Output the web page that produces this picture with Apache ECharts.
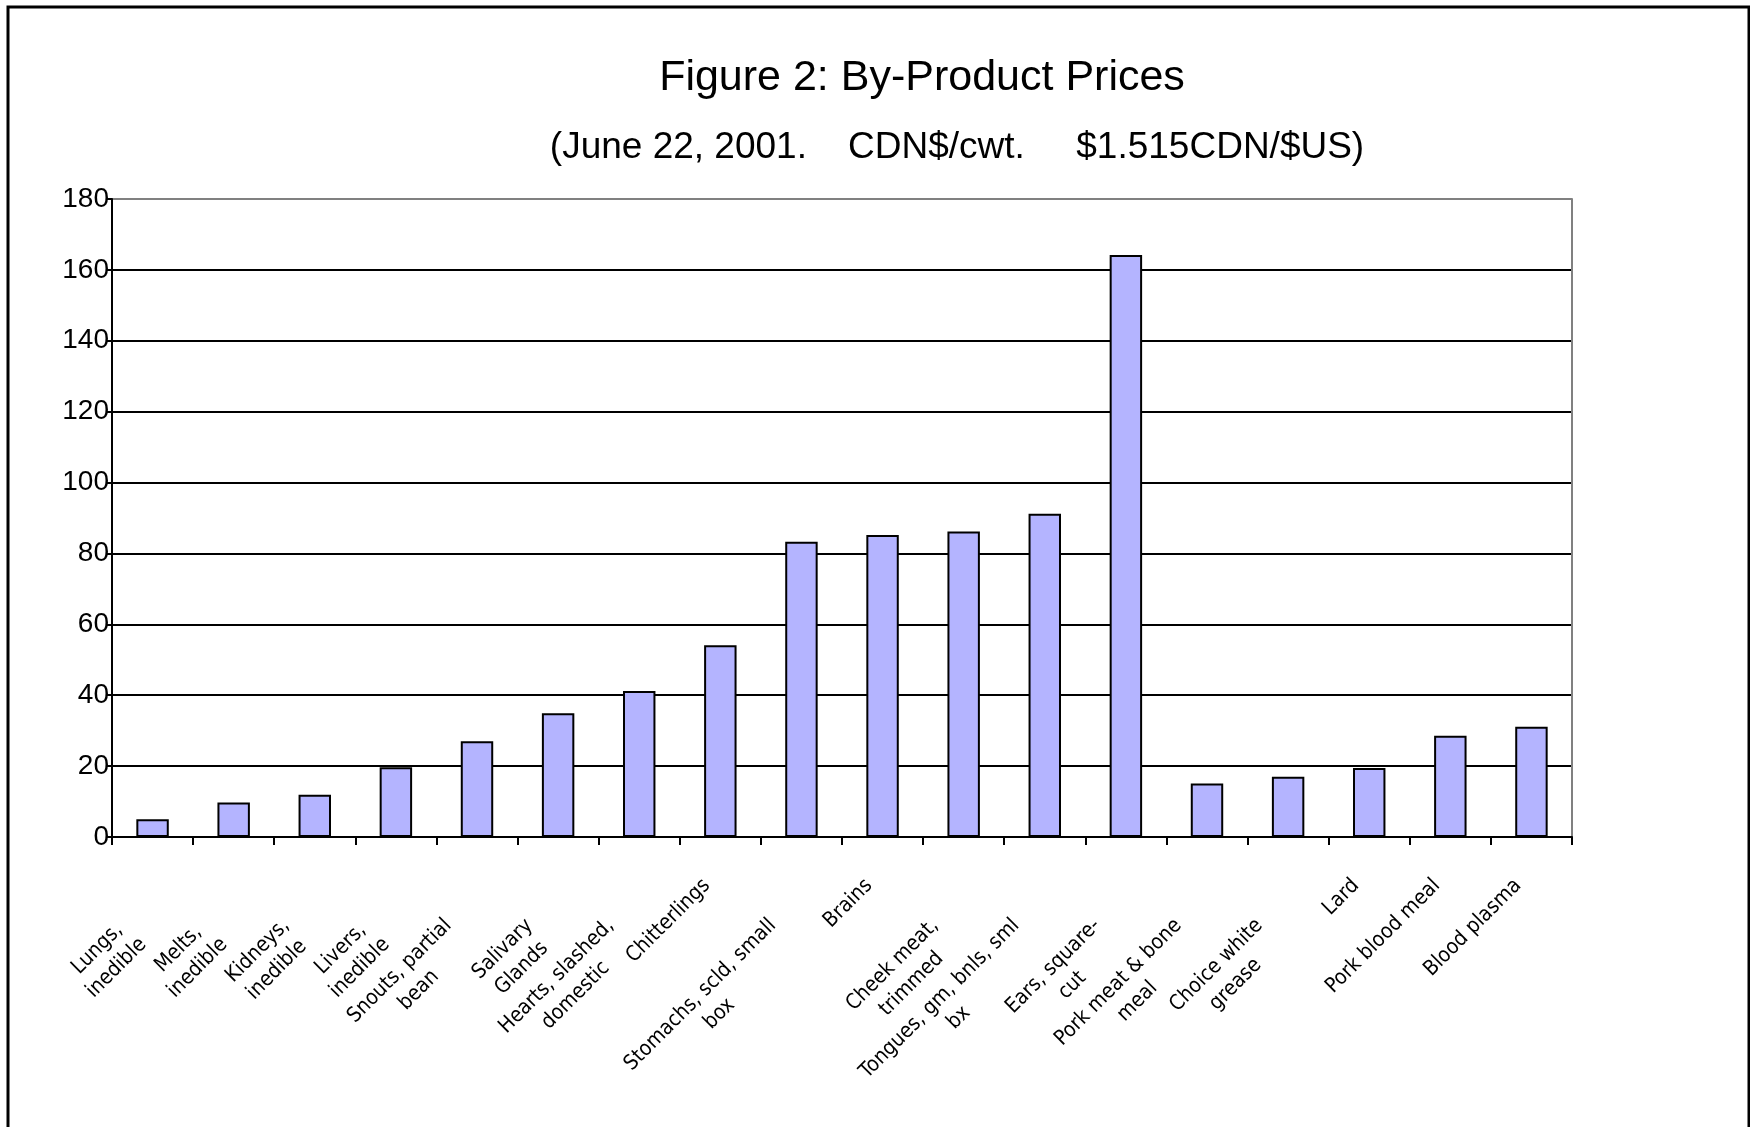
<!DOCTYPE html>
<html>
<head>
<meta charset="utf-8">
<script src="https://cdn.jsdelivr.net/npm/echarts@6/dist/echarts.min.js"></script>
<style>
html,body{margin:0;padding:0;background:#fff;}
#chart{width:1750px;height:1127px;}
</style>
</head>
<body>
<div id="chart"></div>
<script>
const categories = [
  "Lungs,\ninedible",
  "Melts,\ninedible",
  "Kidneys,\ninedible",
  "Livers,\ninedible",
  "Snouts, partial\nbean",
  "Salivary\nGlands",
  "Hearts, slashed,\ndomestic",
  "Chitterlings",
  "Stomachs, scld, small\nbox",
  "Brains",
  "Cheek meat,\ntrimmed",
  "Tongues, gm, bnls, sml\nbx",
  "Ears, square-\ncut",
  "Pork meat & bone\nmeal",
  "Choice white\ngrease",
  "Lard",
  "Pork blood meal",
  "Blood plasma"
];
const prices = [5.0, 9.7, 11.9, 19.7, 27.0, 34.9, 41.2, 54.1, 83.3, 85.2, 86.2, 91.2, 164.2, 15.1, 17.0, 19.5, 28.6, 31.1];
const yTicks = [0, 20, 40, 60, 80, 100, 120, 140, 160, 180];
const titleText = "Figure 2: By-Product Prices";
const subtitleText = "(June 22, 2001.    CDN$/cwt.     $1.515CDN/$US)";

const FONT = "'Liberation Sans', Arial, sans-serif";
const NARROW = "'DejaVu Sans Condensed', 'Liberation Sans', sans-serif";

const chart = echarts.init(document.getElementById('chart'));
const gridColors = yTicks.map((v, i) => i === yTicks.length - 1 ? '#808080' : '#000000');

chart.setOption({
  animation: false,
  backgroundColor: '#ffffff',
  title: [
    {text: titleText, left: 922, top: 57, textAlign: 'center', padding: 0,
     textStyle: {fontFamily: FONT, fontSize: 43, fontWeight: 'normal', color: '#000'}},
    {text: subtitleText, left: 957, top: 129, textAlign: 'center', padding: 0,
     textStyle: {fontFamily: FONT, fontSize: 37, fontWeight: 'normal', color: '#000'}}
  ],
  graphic: [
    {type: 'rect', shape: {x: 8, y: 7, width: 1741, height: 1140}, silent: true,
     style: {fill: 'none', stroke: '#000', lineWidth: 3}}
  ],
  grid: {left: 112, right: 178, top: 199, bottom: 290, containLabel: false, outerBoundsMode: 'none'},
  xAxis: {
    type: 'category',
    data: categories,
    boundaryGap: true,
    axisLine: {show: true, lineStyle: {color: '#000', width: 2}},
    axisTick: {show: true, alignWithLabel: false, length: 8, lineStyle: {color: '#000', width: 2}},
    axisLabel: {
      interval: 0, rotate: 45, margin: 32, color: '#000',
      fontFamily: NARROW, fontSize: 21, lineHeight: 27,
      formatter: function (v) {
        const lines = v.split('\n');
        if (lines.length === 1) return '{s|' + v + '}';
        return '{e| }\n' + lines.map(l => '{c|' + l + '}').join('\n');
      },
      rich: {
        s: {align: 'center', fontFamily: NARROW, fontSize: 21, lineHeight: 27, color: '#000', padding: [0, 19, 0, 0]},
        c: {align: 'center', fontFamily: NARROW, fontSize: 21, lineHeight: 27, color: '#000', padding: [0, 58, 0, 0]},
        e: {fontSize: 4, lineHeight: 62, color: '#fff'}
      }
    },
    splitLine: {show: false}
  },
  yAxis: [
    {
      type: 'value', min: 0, max: 180, interval: 20,
      axisLine: {show: true, lineStyle: {color: '#000', width: 2}},
      axisTick: {show: true, length: 6, lineStyle: {color: '#000', width: 2}},
      axisLabel: {margin: 3, color: '#000', fontFamily: FONT, fontSize: 28},
      splitLine: {show: true, lineStyle: {color: gridColors, width: 2}}
    },
    {
      type: 'value', min: 0, max: 180, interval: 20, position: 'right',
      axisLine: {show: true, lineStyle: {color: '#808080', width: 2}},
      axisTick: {show: false}, axisLabel: {show: false}, splitLine: {show: false}
    }
  ],
  series: [{
    type: 'bar',
    data: prices,
    yAxisIndex: 0,
    barWidth: '40%',
    itemStyle: {color: '#b4b4ff', borderColor: '#000', borderWidth: 2}
  }]
});
</script>
</body>
</html>
